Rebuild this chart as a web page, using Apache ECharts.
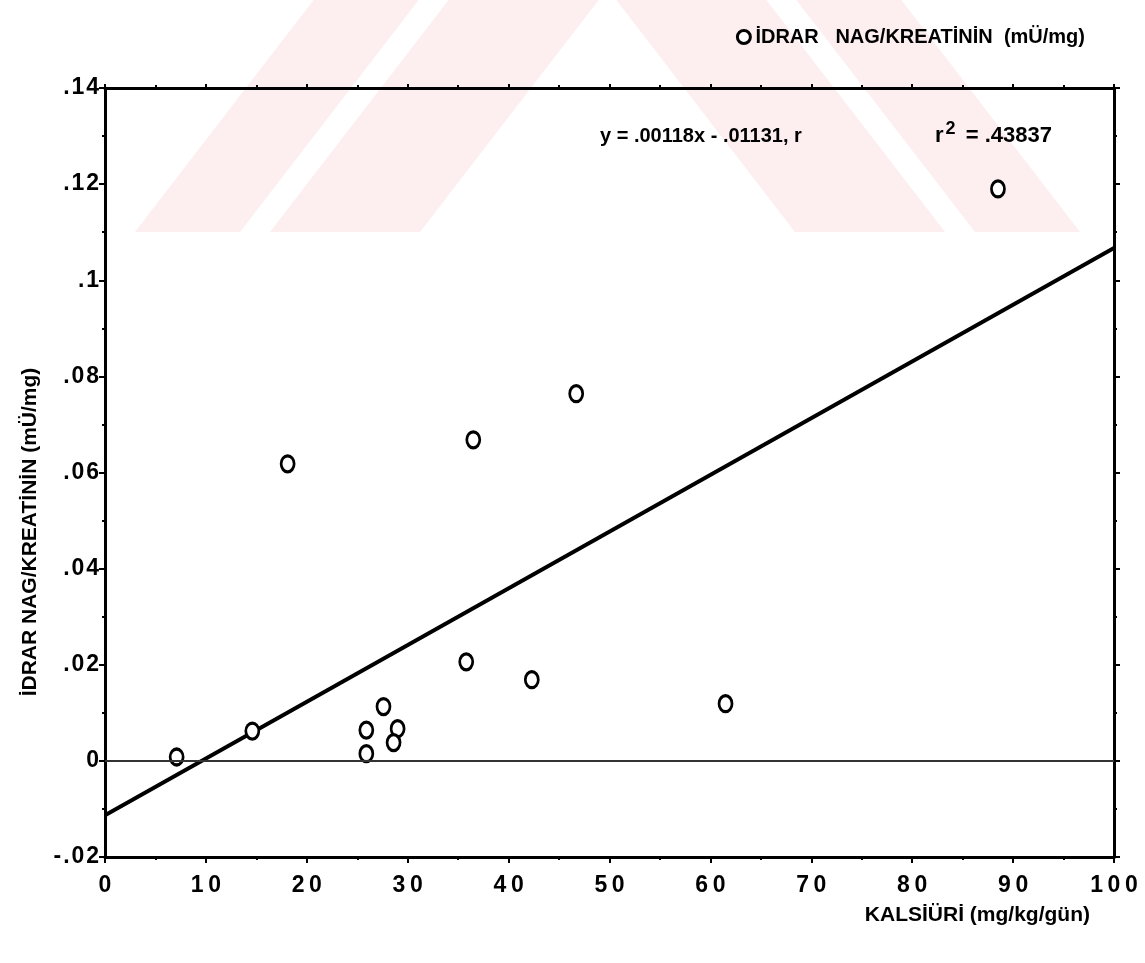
<!DOCTYPE html>
<html>
<head>
<meta charset="utf-8">
<script src="https://cdn.jsdelivr.net/npm/echarts@6/dist/echarts.min.js"></script>
<style>
  html, body { margin: 0; padding: 0; background: #fff; }
  #chart { width: 1145px; height: 963px; }
</style>
</head>
<body>
<div id="chart"></div>
<script>
// kalsiüri (x) ve idrar NAG/kreatinin (y) okumaları
const kalsiuri = [7.1, 14.6, 18.1, 25.9, 25.9, 27.6, 29.0, 28.6, 35.8, 36.5, 46.7, 42.3, 61.5, 88.5];
const nagKreatinin = [0.0008, 0.0062, 0.0618, 0.0064, 0.0015, 0.0113, 0.0067, 0.0038, 0.0206, 0.0668, 0.0764, 0.0169, 0.0119, 0.1190];

// regresyon: y = .00118x - .01131
const slope = 0.00118;
const intercept = -0.01131;
const fitX = [0, 100];

const seriesName = 'İDRAR   NAG/KREATİNİN  (mÜ/mg)';
const FONT = "'Liberation Sans Narrow', 'Liberation Sans', Arial, sans-serif";

const points = kalsiuri.map((x, i) => [x, nagKreatinin[i]]);
const fitLine = fitX.map(x => [x, slope * x + intercept]);

// .14 / -.02 gibi baştaki sıfırsız yazım
function yLabel(v) {
  let s = String(parseFloat(v.toFixed(2)));
  s = s.replace('0.', '.');
  return s.split('').join('\u200a');
}
function xLabel(v) {
  return String(v).split('').join('\u2009');
}

// arka plandaki soluk pembe filigran
const pink = '#fdeef0';
function band(x0, x1, slant, dir) {
  // alt kenar y=232, üst kenar y=0
  const d = slant * 232 * dir;
  return [[x0, 232], [x1, 232], [x1 + d, 0], [x0 + d, 0]];
}
const watermark = [
  band(135, 240, 0.77, 1),
  band(270, 420, 0.77, 1),
  band(795, 945, 0.77, -1),
  band(975, 1080, 0.77, -1)
].map(pts => ({
  type: 'polygon',
  z: -10,
  silent: true,
  shape: { points: pts },
  style: { fill: pink }
}));

const chart = echarts.init(document.getElementById('chart'));

const axisLine = { show: true, onZero: false, lineStyle: { color: '#000', width: 3 } };
const axisTick = { show: true, length: 6, lineStyle: { color: '#000', width: 2 } };
const minorTick = { show: true, splitNumber: 2, length: 3, lineStyle: { color: '#000', width: 2 } };

chart.setOption({
  backgroundColor: '#fff',
  animation: false,
  textStyle: { fontFamily: FONT },
  grid: { left: 105, right: 31, top: 88, bottom: 106 },
  legend: {
    data: [seriesName],
    right: 55,
    top: 22,
    icon: 'circle',
    itemWidth: 13,
    itemHeight: 13,
    itemGap: 6,
    itemStyle: { color: '#fff', borderColor: '#000', borderWidth: 3 },
    textStyle: { fontFamily: FONT, fontSize: 20, fontWeight: 'bold', color: '#000' }
  },
  xAxis: [
    {
      type: 'value', min: 0, max: 100, interval: 10,
      axisLine, axisTick, minorTick,
      splitLine: { show: false },
      axisLabel: {
        color: '#000', fontSize: 23, fontWeight: 'bold', fontFamily: FONT, margin: 17,
        formatter: xLabel
      }
    },
    {
      type: 'value', position: 'top', min: 0, max: 100, interval: 10,
      axisLine, axisTick: Object.assign({}, axisTick, { length: 4 }), minorTick,
      splitLine: { show: false }, axisLabel: { show: false }
    }
  ],
  yAxis: [
    {
      type: 'value', min: -0.02, max: 0.14, interval: 0.02,
      axisLine, axisTick, minorTick,
      splitLine: { show: false },
      axisLabel: {
        color: '#000', fontSize: 23, fontWeight: 'bold', fontFamily: FONT, margin: 6,
        formatter: yLabel
      }
    },
    {
      type: 'value', position: 'right', min: -0.02, max: 0.14, interval: 0.02,
      axisLine, axisTick, minorTick,
      splitLine: { show: false }, axisLabel: { show: false }
    }
  ],
  series: [
    {
      name: 'fit',
      type: 'line',
      data: fitLine,
      symbol: 'none',
      lineStyle: { color: '#000', width: 4 },
      silent: true,
      z: 2
    },
    {
      name: seriesName,
      type: 'scatter',
      data: points,
      symbol: 'circle',
      symbolSize: [13, 16],
      itemStyle: { color: '#fff', borderColor: '#000', borderWidth: 3, opacity: 1 },
      z: 3,
      markLine: {
        silent: true,
        symbol: 'none',
        label: { show: false },
        lineStyle: { color: '#333', width: 2, type: 'solid' },
        data: [{ yAxis: 0 }]
      }
    }
  ],
  graphic: watermark.concat([
    {
      type: 'text',
      x: 600, y: 136,
      style: {
        text: 'y = .00118x - .01131, r',
        fontFamily: FONT, fontSize: 20, fontWeight: 'bold', fill: '#000',
        verticalAlign: 'middle'
      }
    },
    {
      type: 'text',
      x: 935, y: 136,
      style: {
        text: '{b|r}{s|2}{b| = .43837}',
        verticalAlign: 'middle',
        rich: {
          b: { fontFamily: FONT, fontSize: 22, fontWeight: 'bold', color: '#000' },
          s: { fontFamily: FONT, fontSize: 18, fontWeight: 'bold', color: '#000', padding: [0, 4, 14, 2] }
        }
      }
    },
    {
      type: 'text',
      x: 30, y: 532,
      rotation: Math.PI / 2,
      style: {
        text: 'İDRAR NAG/KREATİNİN (mÜ/mg)',
        fontFamily: FONT, fontSize: 21, fontWeight: 'bold', fill: '#000',
        align: 'center', verticalAlign: 'middle'
      }
    },
    {
      type: 'text',
      x: 1090, y: 915,
      style: {
        text: 'KALSİÜRİ (mg/kg/gün)',
        fontFamily: FONT, fontSize: 21, fontWeight: 'bold', fill: '#000',
        align: 'right', verticalAlign: 'middle'
      }
    }
  ])
});
</script>
</body>
</html>
